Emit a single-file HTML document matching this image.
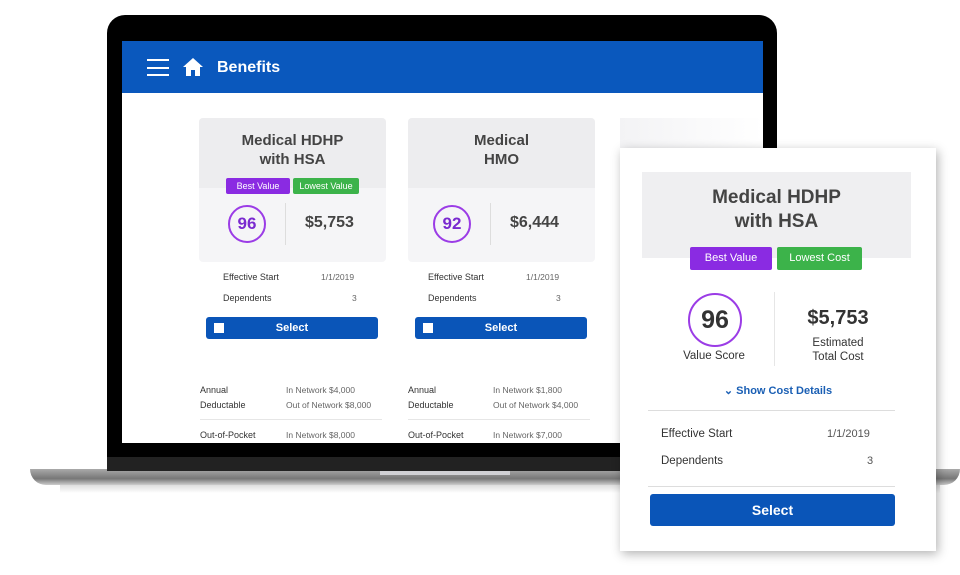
<!DOCTYPE html>
<html><head><meta charset="utf-8"><style>
*{margin:0;padding:0;box-sizing:border-box}
body{width:960px;height:575px;background:#fff;position:relative;overflow:hidden;font-family:"Liberation Sans",sans-serif}
.a{position:absolute}
.t{color:#444;font-weight:bold}
.sm{font-size:9px;color:#333}
.gr{font-size:8.5px;color:#666}
.btn{background:#0a55b8;color:#fff;font-weight:bold;text-align:center;border-radius:3px}
.badge{color:#fff;font-size:9px;text-align:center;border-radius:2px}
</style></head><body>
<div class="a" style="left:30px;top:469px;width:930px;height:16px;background:linear-gradient(#aaa,#777 60%,#ccc);border-radius:0 0 40px 40px"></div>
<div class="a" style="left:60px;top:485px;width:880px;height:8px;background:linear-gradient(#ddd,#fff)"></div>
<div class="a" style="left:380px;top:470px;width:130px;height:5px;background:#d0d0d4"></div>
<div class="a" style="left:107px;top:15px;width:670px;height:456px;background:#000;border-radius:18px 18px 0 0;border-bottom:14px solid #222"></div>
<div class="a" style="left:122px;top:41px;width:641px;height:402px;background:#fff;overflow:hidden">
  <div class="a" style="left:0;top:0;width:641px;height:52px;background:#0a58bd"></div>
  <div class="a" style="left:25px;top:18px;width:22px;height:17px;border-top:2px solid #fff;border-bottom:2px solid #fff"><div style="margin-top:5.5px;height:2px;background:#fff"></div></div>
  <svg class="a" style="left:60px;top:16px" width="22" height="20" viewBox="0 0 22 20"><path d="M11 1 L1 10 L4 10 L4 19 L9 19 L9 13 L13 13 L13 19 L18 19 L18 10 L21 10 Z" fill="#fff"/></svg>
  <div class="a" style="left:95px;top:18px;color:#fff;font-size:16px;font-weight:bold">Benefits</div>

  <div class="a" style="left:77px;top:77px;width:187px;height:144px;background:#f5f5f7;border-radius:4px"></div>
  <div class="a" style="left:77px;top:77px;width:187px;height:70px;background:#ededef;border-radius:4px 4px 0 0"></div>
  <div class="a t" style="left:77px;top:90px;width:187px;text-align:center;font-size:15px;line-height:19px">Medical HDHP<br>with HSA</div>
  <div class="a badge" style="left:104px;top:137px;width:64px;height:16px;line-height:16px;background:#8a2be2">Best Value</div>
  <div class="a badge" style="left:171px;top:137px;width:66px;height:16px;line-height:16px;background:#3cb34a">Lowest Value</div>
  <div class="a" style="left:106px;top:164px;width:38px;height:38px;border:2px solid #9b3ce6;border-radius:50%;text-align:center;line-height:34px;color:#7a2ad0;font-weight:bold;font-size:17px">96</div>
  <div class="a" style="left:163px;top:162px;width:1px;height:42px;background:#ddd"></div>
  <div class="a t" style="left:183px;top:173px;font-size:16px">$5,753</div>
  <div class="a sm" style="left:101px;top:231px">Effective Start</div>
  <div class="a gr" style="left:199px;top:231px">1/1/2019</div>
  <div class="a sm" style="left:101px;top:252px">Dependents</div>
  <div class="a gr" style="left:230px;top:252px">3</div>
  <div class="a btn" style="left:84px;top:276px;width:172px;height:22px;line-height:22px;font-size:11px"><span style="position:absolute;left:8px;top:6px;width:10px;height:10px;background:#fff"></span>Select</div>

  <div class="a" style="left:286px;top:77px;width:187px;height:144px;background:#f5f5f7;border-radius:4px"></div>
  <div class="a" style="left:286px;top:77px;width:187px;height:70px;background:#ededef;border-radius:4px 4px 0 0"></div>
  <div class="a t" style="left:286px;top:90px;width:187px;text-align:center;font-size:15px;line-height:19px">Medical<br>HMO</div>
  <div class="a" style="left:311px;top:164px;width:38px;height:38px;border:2px solid #9b3ce6;border-radius:50%;text-align:center;line-height:34px;color:#7a2ad0;font-weight:bold;font-size:17px">92</div>
  <div class="a" style="left:368px;top:162px;width:1px;height:42px;background:#ddd"></div>
  <div class="a t" style="left:388px;top:173px;font-size:16px">$6,444</div>
  <div class="a sm" style="left:306px;top:231px">Effective Start</div>
  <div class="a gr" style="left:404px;top:231px">1/1/2019</div>
  <div class="a sm" style="left:306px;top:252px">Dependents</div>
  <div class="a gr" style="left:434px;top:252px">3</div>
  <div class="a btn" style="left:293px;top:276px;width:172px;height:22px;line-height:22px;font-size:11px"><span style="position:absolute;left:8px;top:6px;width:10px;height:10px;background:#fff"></span>Select</div>

  <div class="a" style="left:498px;top:77px;width:143px;height:144px;background:linear-gradient(90deg,#f3f3f5,#fff)"></div>

  <div class="a sm" style="left:78px;top:342px;line-height:15px">Annual<br>Deductable</div>
  <div class="a gr" style="left:164px;top:342px;line-height:15px">In Network $4,000<br>Out of Network $8,000</div>
  <div class="a" style="left:78px;top:378px;width:182px;height:1px;background:#e6e6e6"></div>
  <div class="a sm" style="left:78px;top:389px">Out-of-Pocket</div>
  <div class="a gr" style="left:164px;top:389px">In Network $8,000</div>
  <div class="a sm" style="left:286px;top:342px;line-height:15px">Annual<br>Deductable</div>
  <div class="a gr" style="left:371px;top:342px;line-height:15px">In Network $1,800<br>Out of Network $4,000</div>
  <div class="a" style="left:286px;top:378px;width:182px;height:1px;background:#e6e6e6"></div>
  <div class="a sm" style="left:286px;top:389px">Out-of-Pocket</div>
  <div class="a gr" style="left:371px;top:389px">In Network $7,000</div>
</div>

<div class="a" style="left:620px;top:148px;width:316px;height:403px;background:#fff;box-shadow:2px 3px 10px rgba(0,0,0,.3)">
  <div class="a" style="left:22px;top:24px;width:269px;height:86px;background:#efeff1"></div>
  <div class="a t" style="left:22px;top:38px;width:269px;text-align:center;font-size:19px;line-height:24px">Medical HDHP<br>with HSA</div>
  <div class="a badge" style="left:70px;top:99px;width:82px;height:23px;line-height:23px;font-size:11px;background:#8a2be2">Best Value</div>
  <div class="a badge" style="left:157px;top:99px;width:85px;height:23px;line-height:23px;font-size:11px;background:#3cb34a">Lowest Cost</div>
  <div class="a" style="left:68px;top:145px;width:54px;height:54px;border:2px solid #9b3ce6;border-radius:50%;text-align:center;line-height:50px;color:#333;font-weight:bold;font-size:25px">96</div>
  <div class="a" style="left:40px;top:202px;width:108px;text-align:center;font-size:11.5px;color:#333">Value Score</div>
  <div class="a" style="left:154px;top:144px;width:1px;height:74px;background:#e6e6e6"></div>
  <div class="a t" style="left:160px;top:159px;width:116px;text-align:center;font-size:20px;color:#333">$5,753</div>
  <div class="a" style="left:160px;top:188px;width:116px;text-align:center;font-size:11.5px;line-height:14px;color:#333">Estimated<br>Total Cost</div>
  <div class="a" style="left:0;top:236px;width:316px;text-align:center;font-size:11px;color:#1a5fb4;font-weight:bold">&#8964; Show Cost Details</div>
  <div class="a" style="left:28px;top:262px;width:247px;height:1px;background:#ddd"></div>
  <div class="a" style="left:41px;top:280px;font-size:11.5px;color:#333">Effective Start</div>
  <div class="a" style="left:207px;top:280px;font-size:11px;color:#555">1/1/2019</div>
  <div class="a" style="left:41px;top:307px;font-size:11.5px;color:#333">Dependents</div>
  <div class="a" style="left:247px;top:307px;font-size:11px;color:#555">3</div>
  <div class="a" style="left:28px;top:338px;width:247px;height:1px;background:#ddd"></div>
  <div class="a btn" style="left:30px;top:346px;width:245px;height:32px;line-height:32px;font-size:14px">Select</div>
</div>
</body></html>
